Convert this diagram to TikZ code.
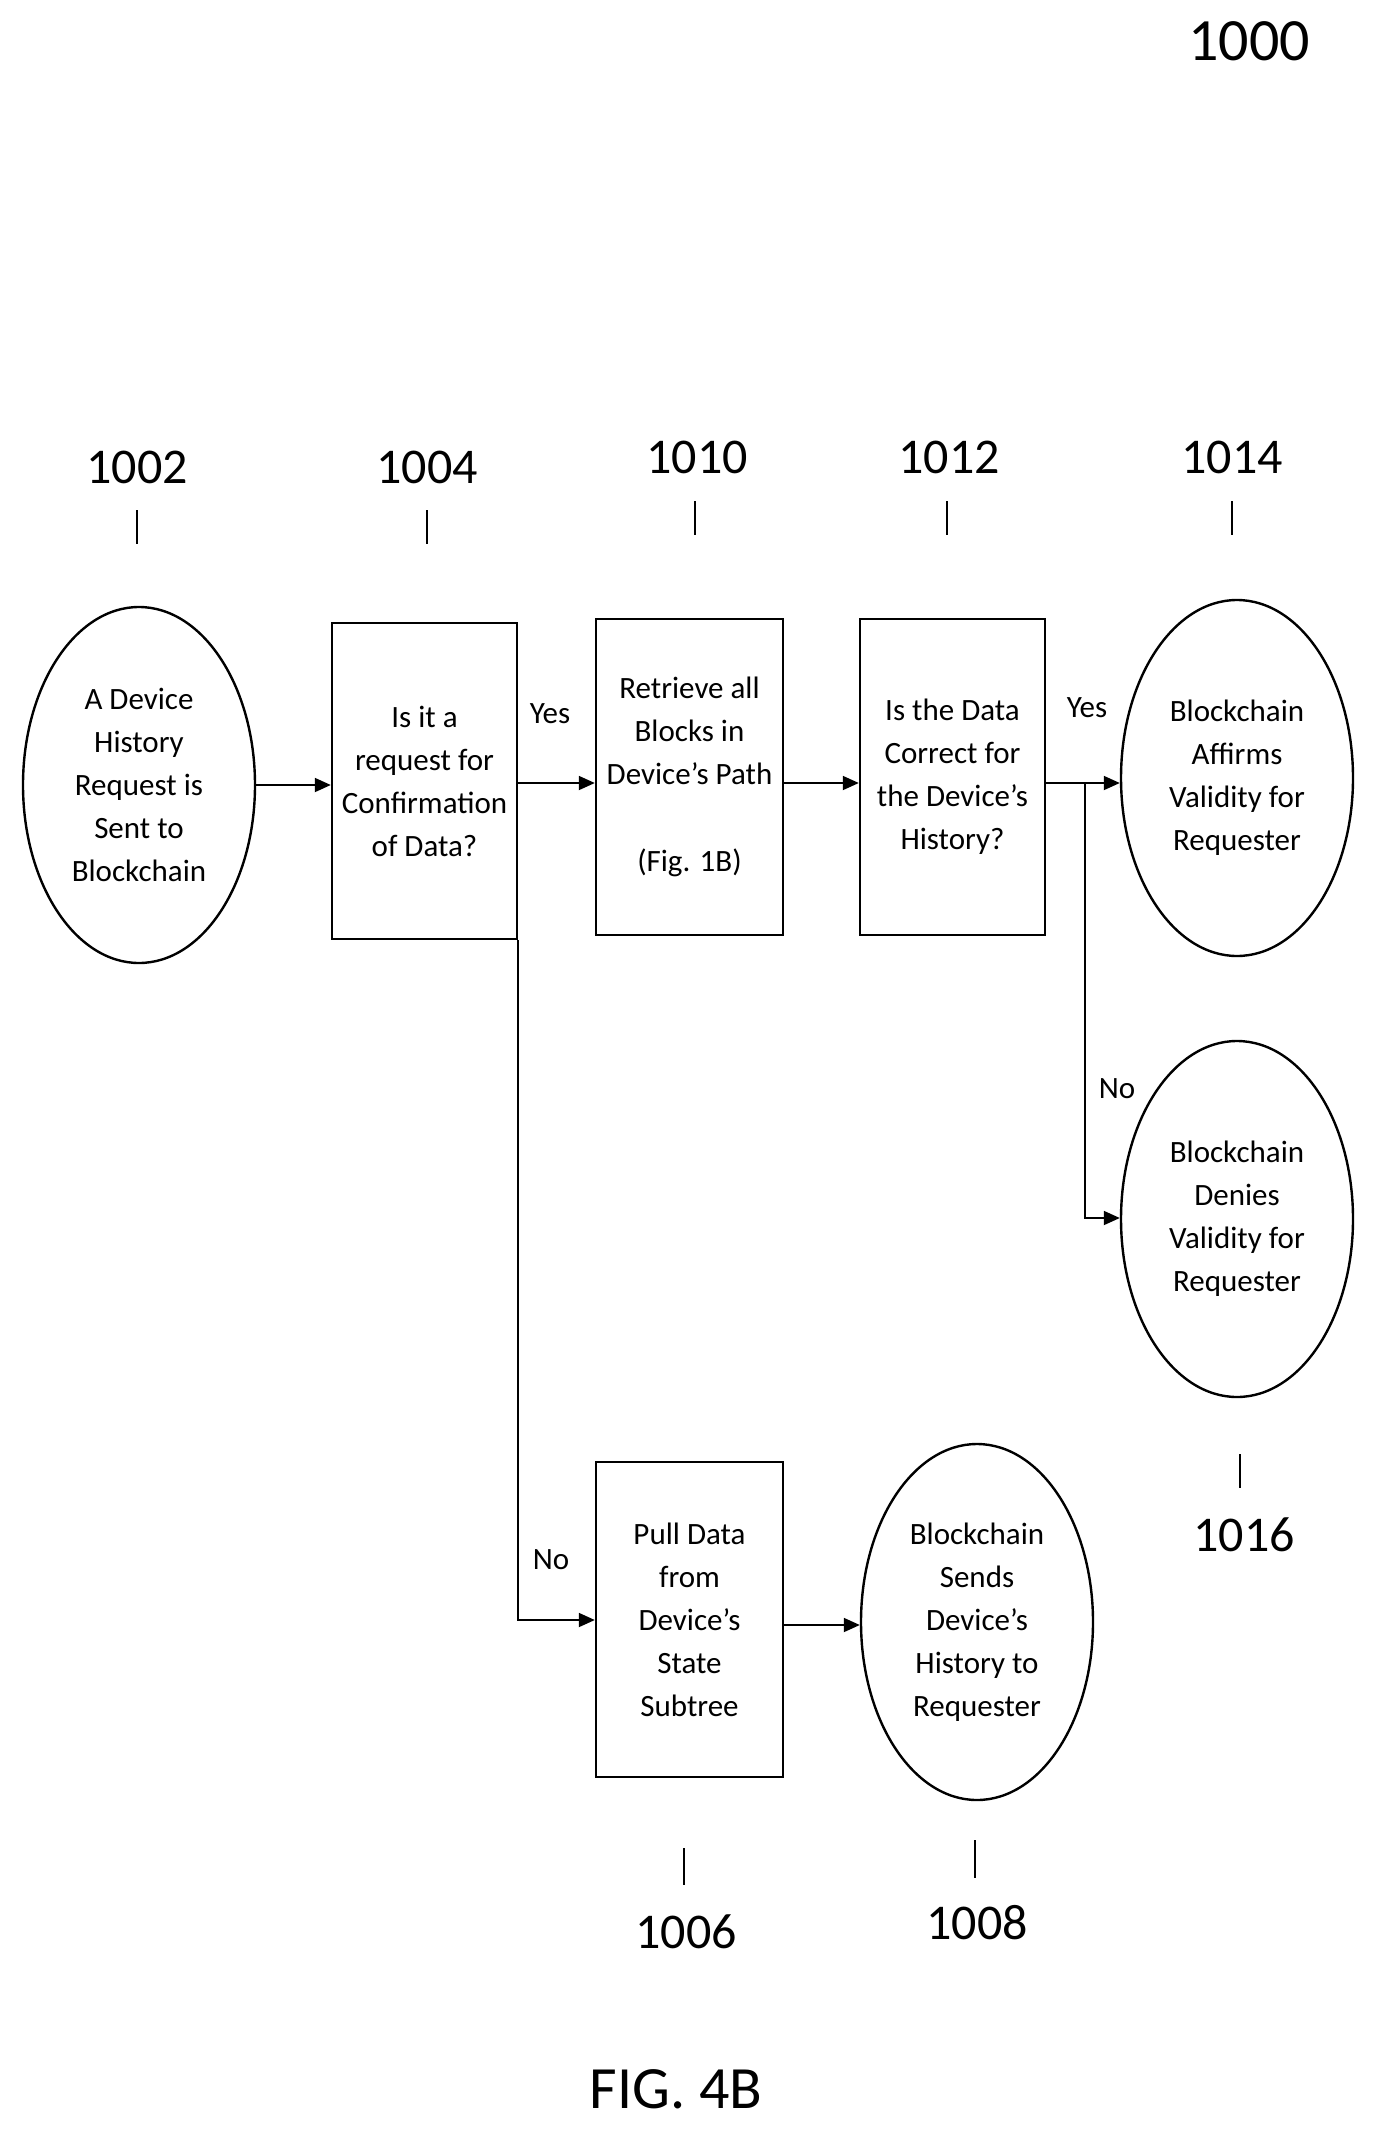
\documentclass[tikz,border=0pt]{standalone}
\usepackage{fontspec}
\setmainfont{Carlito}
\usetikzlibrary{shapes.geometric,arrows.meta}
\begin{document}
\begin{tikzpicture}[x=0.5pt,y=-0.5pt,
  txt/.style={font=\fontsize{15.5}{21.5}\selectfont,align=center},
  box/.style={draw,line width=1.2pt,txt,inner sep=0pt},
  ell/.style={draw,ellipse,line width=1.2pt,txt,inner sep=0pt},
  num/.style={font=\fontsize{25}{30}\selectfont},
  lab/.style={font=\fontsize{15.5}{20}\selectfont},
  arr/.style={-{Triangle[length=8pt,width=7pt]},line width=0.9pt},
  tick/.style={line width=0.9pt}]
\useasboundingbox (0,0) rectangle (1388,2150);
\node[ell,minimum width=116pt,minimum height=178pt] (a) at (139,785) {A Device\\History\\Request is\\Sent to\\Blockchain};
\node[box,minimum width=92.5pt,minimum height=158pt] (b) at (424.5,781) {Is it a\\request for\\Confirmation\\of Data?};
\node[box,minimum width=93.5pt,minimum height=158pt] (c) at (689.5,777) {Retrieve all\\Blocks in\\Device’s Path\\[22pt](Fig. 1B)};
\node[box,minimum width=92.5pt,minimum height=158pt] (d) at (952.5,777) {Is the Data\\Correct for\\the Device’s\\History?};
\node[ell,minimum width=116pt,minimum height=178pt] (e) at (1237,778) {Blockchain\\Affirms\\Validity for\\Requester};
\node[ell,minimum width=116pt,minimum height=178pt] (f) at (1237,1219) {Blockchain\\Denies\\Validity for\\Requester};
\node[box,minimum width=93.5pt,minimum height=157.5pt] (g) at (689.5,1619.5) {Pull Data\\from\\Device’s\\State\\Subtree};
\node[ell,minimum width=116pt,minimum height=178pt] (h) at (977,1622) {Blockchain\\Sends\\Device’s\\History to\\Requester};
\draw[arr] (a.east) -- (b.west |- a.east);
\draw[arr] (b.east |- 0,783) -- (c.west |- 0,783);
\draw[arr] (c.east |- 0,783) -- (d.west |- 0,783);
\coordinate (br) at (1085,783);
\draw[arr] (d.east |- br) -- (e.west |- br);
\draw[arr] (br) -- (1085,1218) -- (f.west |- 0,1218);
\draw[arr] (b.south east) -- (b.east |- 0,1620) -- (g.west |- 0,1620);
\draw[arr] (g.east |- 0,1625) -- (h.west |- 0,1625);
\node[lab] at (550,714) {Yes};
\node[lab] at (1087,708) {Yes};
\node[lab] at (1117,1089) {No};
\node[lab] at (551,1560) {No};
\node[num] (n1) at (137,467) {1002}; \draw[tick] (137,510) -- (137,544);
\node[num] (n2) at (427,467) {1004}; \draw[tick] (427,510) -- (427,544);
\node[num] (n3) at (697,457) {1010}; \draw[tick] (695,501) -- (695,535);
\node[num] (n4) at (949,457) {1012}; \draw[tick] (947,501) -- (947,535);
\node[num] (n5) at (1232,457) {1014}; \draw[tick] (1232,501) -- (1232,535);
\node[num] (n6) at (1244,1535) {1016}; \draw[tick] (1240,1454) -- (1240,1488);
\node[num] (n7) at (686,1932) {1006}; \draw[tick] (684,1848) -- (684,1885);
\node[num] (n8) at (977,1923) {1008}; \draw[tick] (975,1840) -- (975,1878);
\node[font=\fontsize{30}{36}\selectfont] (n0) at (1249,41) {1000};
\node[font=\fontsize{30}{36}\selectfont] (fig) at (676,2089) {FIG. 4B};
\end{tikzpicture}
\end{document}
